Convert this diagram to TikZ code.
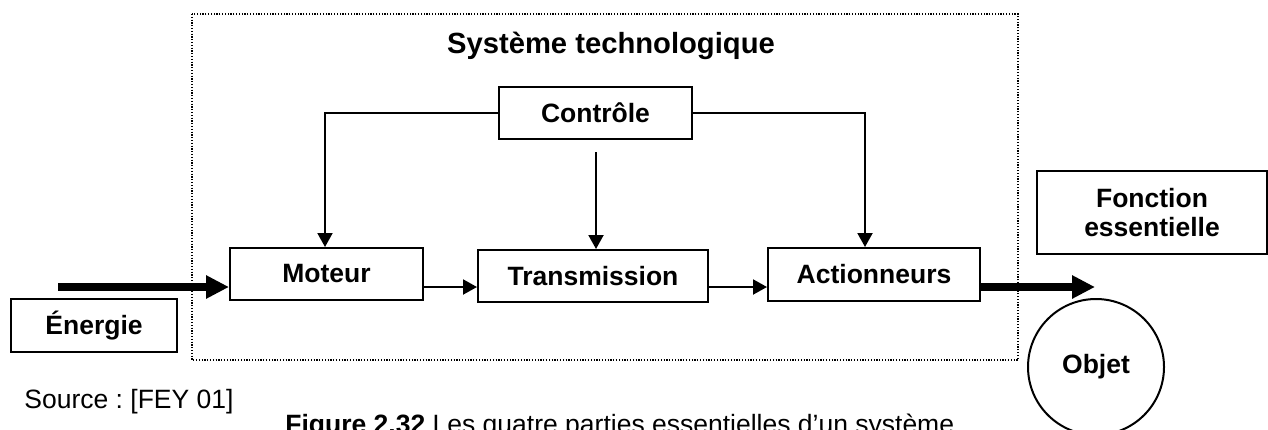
\documentclass[tikz,border=0pt]{standalone}
\usepackage{fontspec}
\setmainfont{Liberation Sans}
\usetikzlibrary{arrows.meta}
\frenchspacing
\begin{document}
\begin{tikzpicture}[x=0.5pt,y=-0.5pt,
  lbl/.style={font=\fontsize{13.25}{14.5}\selectfont\bfseries},
  blockbox/.style={draw, line width=1pt, inner sep=0pt, align=center, lbl},
  thinarrow/.style={line width=1pt, -{Triangle[length=7pt,width=7.5pt]}},
  thickarrow/.style={line width=4pt, -{Triangle[length=11.5pt,width=11pt]}},
  sysframe/.style={draw, line width=0.75pt, dash pattern=on 0.6pt off 0.8pt}]
\useasboundingbox (0,0) rectangle (1268,429);

% system frame
\draw[sysframe] (192,14) rectangle (1018,360);
\node[anchor=base, font=\fontsize{14.6}{16}\selectfont\bfseries] (title) at (611,53) {Système technologique};

% blocks
\node[blockbox, minimum width=96.5pt, minimum height=26pt] (ctrl) at (595.5,113) {Contrôle};
\node[blockbox, minimum width=96.5pt, minimum height=26pt] (mot) at (326.5,274) {\raisebox{-1pt}{Moteur}};
\node[blockbox, minimum width=115pt, minimum height=26pt] (trans) at (593,276) {Transmission};
\node[blockbox, minimum width=106pt, minimum height=26.5pt] (act) at (874,274.5) {Actionneurs};
\node[blockbox, minimum width=83pt, minimum height=26.5pt] (ener) at (94,325.5) {Énergie};
\node[blockbox, minimum width=115pt, minimum height=41.5pt] (fonc) at (1152,212.5) {Fonction\\essentielle};
\node[draw, circle, line width=1pt, minimum size=68pt, inner sep=0pt, lbl] (obj) at (1096,367) {Objet};

% helper coordinates
\coordinate (lev) at (0,287);
\coordinate (ctrlL) at (325,113);
\coordinate (ctrlR) at (865,113);
\coordinate (ctrlM) at (596,152);
\coordinate (enerStart) at (58,287);
\coordinate (outEnd) at (1095,287);

% control links
\draw[thinarrow] (ctrl.west) -- (ctrlL) -- (ctrlL |- mot.north);
\draw[thinarrow] (ctrl.east) -- (ctrlR) -- (ctrlR |- act.north);
\draw[thinarrow] (ctrlM) -- (ctrlM |- trans.north);

% chain
\draw[thinarrow] (mot.east |- lev) -- (trans.west |- lev);
\draw[thinarrow] (trans.east |- lev) -- (act.west |- lev);

% energy in / out
\draw[thickarrow] (enerStart) -- (mot.west |- lev);
\draw[thickarrow] (act.east |- lev) -- (outEnd);

% texts
\node[anchor=base west, font=\fontsize{13.25}{14.5}\selectfont, inner sep=0pt] (src) at (24,408) {Source : [FEY 01]};
\node[anchor=base west, font=\fontsize{13.25}{14.5}\selectfont, inner sep=0pt] (cap) at (285,433) {\textbf{Figure 2.32} Les quatre parties essentielles d’un système};
\end{tikzpicture}
\end{document}
